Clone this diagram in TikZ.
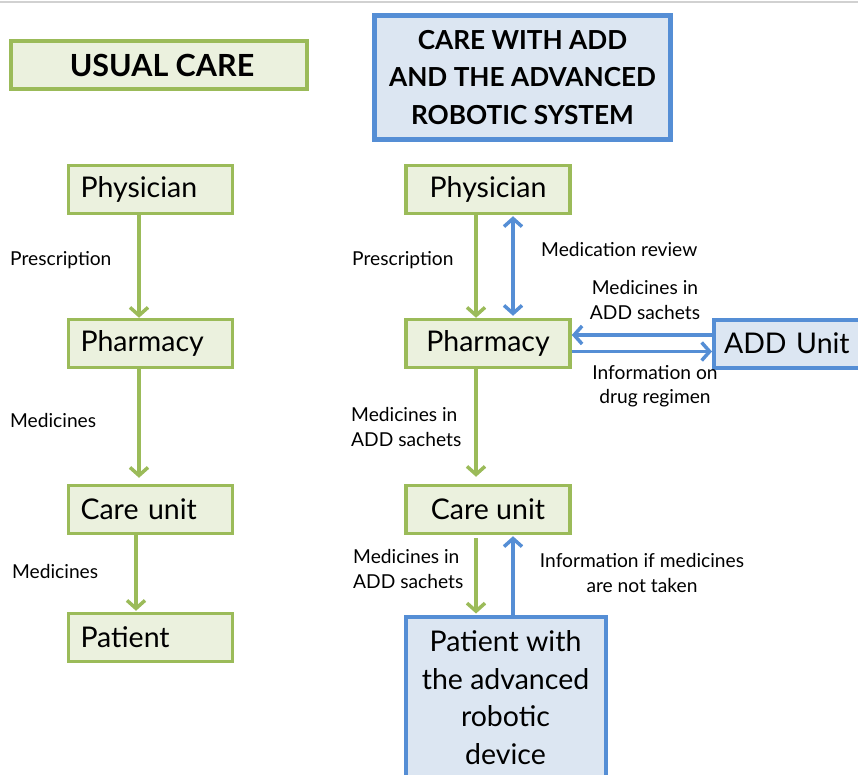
\documentclass[tikz,border=0pt]{standalone}
\usepackage{fontspec}
\setmainfont{Lato}
\usetikzlibrary{arrows.meta}
\definecolor{gborder}{HTML}{9BBB59}
\definecolor{gfill}{HTML}{EBF1DE}
\definecolor{bborder}{HTML}{558ED5}
\definecolor{bfill}{HTML}{DCE6F2}
\tikzset{
  gbox/.style={draw=gborder, fill=gfill, line width=3.5pt, minimum width=164pt, minimum height=48pt, inner sep=0pt, font=\fontsize{28.5}{34}\selectfont},
  gboxl/.style={gbox, text width=140pt, align=left},
  bbox/.style={draw=bborder, fill=bfill, line width=4pt, inner sep=0pt},
  lbl/.style={font=\fontsize{19.2}{24.5}\selectfont, inner sep=0pt},
  garrow/.style={draw=gborder, line width=3.5pt, -{Straight Barb[length=8pt,width=18pt]}},
  barrow/.style={draw=bborder, line width=3.5pt, -{Straight Barb[length=8pt,width=18pt]}},
  bdarrow/.style={draw=bborder, line width=3.5pt, {Straight Barb[length=8pt,width=18pt]}-{Straight Barb[length=8pt,width=18pt]}},
}
\begin{document}
\begin{tikzpicture}[x=1pt,y=-1pt]
\useasboundingbox (0,0) rectangle (858,775);
\clip (0,0) rectangle (858,775);
\draw[black!18, line width=2pt] (0,2) -- (858,2);
% titles
\node[gbox, minimum width=296pt, minimum height=48pt, font=\bfseries\fontsize{30.5}{36}\selectfont] (uc) at (159,65) {\hspace*{6pt}USUAL CARE};
\node[bbox, line width=4.5pt, minimum width=296pt, minimum height=124pt, align=center, font=\bfseries\fontsize{26.2}{37.5}\selectfont] (addt) at (522.5,77.5) {CARE WITH ADD\\AND THE ADVANCED\\ROBOTIC SYSTEM};
% left column
\node[gboxl] (lphys) at (150.5,189.5) {Physician};
\node[gboxl] (lpharm) at (150.5,343.5) {Pharmacy};
\node[gboxl] (lcare) at (150.5,509.5) {Care unit};
\node[gboxl] (lpat) at (150.5,637.5) {Patient};
\draw[garrow] ([xshift=-11.5pt]lphys.south) -- ([xshift=-11.5pt]lpharm.north);
\draw[garrow, shorten >=6pt] ([xshift=-11.5pt]lpharm.south) -- ([xshift=-11.5pt]lcare.north);
\draw[garrow, shorten >=1pt] ([xshift=-14.5pt]lcare.south) -- ([xshift=-14.5pt]lpat.north);
\node[lbl, anchor=west] (l1) at (10,260) {Prescription};
\node[lbl, anchor=west] (l2) at (10,421) {Medicines};
\node[lbl, anchor=west] (l3) at (12,572) {Medicines};
% right column
\node[gbox] (rphys) at (488,189.5) {Physician};
\node[gbox] (rpharm) at (488,343.5) {Pharmacy};
\node[gbox] (rcare) at (488,509.5) {Care unit};
\node[bbox, minimum width=170pt, minimum height=48pt, text width=150pt, align=left, font=\fontsize{28.5}{34}\selectfont] (addu) at (799,343.5) {ADD Unit};
\node[bbox, minimum width=200pt, minimum height=168pt, anchor=north, font=\fontsize{28.5}{37.5}\selectfont] (rpat) at (505.5,614.5) {\raisebox{4pt}{\begin{tabular}{@{}c@{}}Patient with\\the advanced\\robotic\\device\end{tabular}}};
\draw[garrow] ([xshift=-12pt]rphys.south) -- ([xshift=-12pt]rpharm.north);
\draw[bdarrow, shorten <=1pt, shorten >=2pt] ([xshift=25pt]rphys.south) -- ([xshift=25pt]rpharm.north);
\draw[barrow] (addu.west |- 0,335) -- (rpharm.east |- 0,335);
\draw[barrow] (rpharm.east |- 0,351.5) -- (addu.west |- 0,351.5);
\draw[garrow, shorten >=7pt] ([xshift=-12pt]rpharm.south) -- ([xshift=-12pt]rcare.north);
\draw[garrow, shorten <=3pt, shorten >=1pt] ([xshift=-12pt]rcare.south) -- ([xshift=-12pt]rcare.south |- rpat.north);
\draw[barrow, shorten >=1pt] ([xshift=25pt]rcare.south |- rpat.north) -- ([xshift=25pt]rcare.south);
\node[lbl, anchor=west] (r1) at (352,260) {Prescription};
\node[lbl, anchor=west] (r2) at (541,250) {Medication review};
\node[lbl, align=center] (r3) at (645,300) {Medicines in\\ADD sachets};
\node[lbl, align=center] (r4) at (655,386) {Information on\\drug regimen};
\node[lbl, anchor=west, align=left] (r5) at (351,427) {Medicines in\\ADD sachets};
\node[lbl, anchor=west, align=left] (r6) at (353,569) {Medicines in\\ADD sachets};
\node[lbl, align=center] (r7) at (642,573) {Information if medicines\\are not taken};
\end{tikzpicture}
\end{document}
